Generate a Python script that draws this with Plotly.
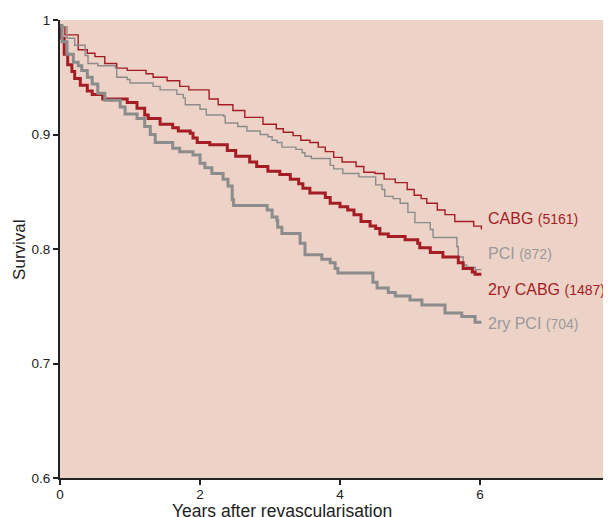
import plotly.graph_objects as go

# ---- data ----
cabg_t = [0, 0.07, 0.26, 0.39, 0.50, 0.64, 0.81, 0.96, 1.23, 1.33, 1.53, 1.71, 1.84, 2.13, 2.26, 2.47,
          2.64, 2.90, 3.09, 3.19, 3.33, 3.44, 3.57, 3.69, 3.79, 3.91, 4.03, 4.23, 4.34, 4.50, 4.63, 4.79,
          4.96, 5.06, 5.16, 5.24, 5.39, 5.50, 5.64, 5.91, 6.02]
cabg_s = [0.994, 0.987, 0.974, 0.971, 0.968, 0.962, 0.958, 0.956, 0.953, 0.950, 0.947, 0.942, 0.939, 0.931,
          0.926, 0.921, 0.915, 0.909, 0.905, 0.902, 0.899, 0.895, 0.893, 0.889, 0.885, 0.880, 0.876, 0.872,
          0.867, 0.866, 0.861, 0.858, 0.852, 0.847, 0.844, 0.840, 0.834, 0.830, 0.824, 0.820, 0.817]

pci_t = [0, 0.10, 0.21, 0.36, 0.40, 0.54, 0.79, 0.81, 0.96, 1.00, 1.33, 1.43, 1.67, 1.76, 1.79, 2.00, 2.09,
         2.34, 2.36, 2.54, 2.67, 2.86, 2.97, 3.03, 3.10, 3.17, 3.37, 3.46, 3.50, 3.59, 3.86, 3.91, 4.04,
         4.27, 4.51, 4.60, 4.64, 4.76, 4.86, 4.97, 5.07, 5.29, 5.33, 5.67, 5.69, 5.76, 5.81, 5.93, 6.02]
pci_s = [0.994, 0.984, 0.978, 0.969, 0.962, 0.960, 0.958, 0.950, 0.948, 0.945, 0.942, 0.939, 0.935, 0.932,
         0.926, 0.922, 0.917, 0.916, 0.910, 0.907, 0.903, 0.900, 0.898, 0.895, 0.893, 0.889, 0.887, 0.884,
         0.881, 0.879, 0.873, 0.870, 0.866, 0.863, 0.856, 0.852, 0.846, 0.844, 0.840, 0.832, 0.823, 0.817,
         0.810, 0.802, 0.793, 0.786, 0.784, 0.782, 0.782]

cabg2_t = [0, 0.02, 0.06, 0.11, 0.17, 0.21, 0.29, 0.39, 0.46, 0.61, 0.96, 1.10, 1.21, 1.26, 1.43, 1.61,
           1.69, 1.86, 1.90, 1.96, 2.14, 2.39, 2.51, 2.71, 2.81, 2.97, 3.14, 3.29, 3.41, 3.47, 3.57, 3.79,
           3.86, 4.00, 4.11, 4.20, 4.30, 4.43, 4.51, 4.57, 4.69, 4.93, 5.11, 5.14, 5.29, 5.47, 5.69, 5.76,
           5.89, 5.93, 6.02]
cabg2_s = [0.995, 0.984, 0.970, 0.961, 0.955, 0.949, 0.943, 0.938, 0.935, 0.931, 0.928, 0.923, 0.917,
           0.914, 0.909, 0.906, 0.903, 0.901, 0.897, 0.893, 0.891, 0.886, 0.881, 0.876, 0.872, 0.868, 0.865,
           0.861, 0.857, 0.853, 0.849, 0.845, 0.840, 0.837, 0.834, 0.830, 0.824, 0.820, 0.818, 0.813, 0.811,
           0.808, 0.805, 0.801, 0.797, 0.793, 0.788, 0.783, 0.780, 0.778, 0.778]

pci2_t = [0, 0.03, 0.10, 0.19, 0.26, 0.31, 0.39, 0.46, 0.54, 0.64, 0.86, 0.93, 1.10, 1.21, 1.29, 1.36,
          1.61, 1.71, 1.90, 2.00, 2.07, 2.17, 2.33, 2.40, 2.46, 2.48, 2.96, 3.03, 3.10, 3.11, 3.17, 3.43,
          3.50, 3.74, 3.86, 3.93, 3.97, 4.47, 4.53, 4.69, 4.79, 5.00, 5.17, 5.50, 5.74, 5.93, 6.02]
pci2_s = [0.995, 0.981, 0.970, 0.963, 0.960, 0.956, 0.950, 0.944, 0.936, 0.930, 0.924, 0.918, 0.914,
          0.907, 0.900, 0.893, 0.888, 0.885, 0.882, 0.875, 0.871, 0.866, 0.861, 0.855, 0.843, 0.838, 0.834,
          0.828, 0.825, 0.819, 0.8135, 0.805, 0.795, 0.791, 0.788, 0.783, 0.779, 0.771, 0.766, 0.762, 0.759,
          0.7555, 0.751, 0.744, 0.741, 0.736, 0.736]

labels = ["CABG", "PCI", "2ry CABG", "2ry PCI"]
counts = ["(5161)", "(872)", "(1487)", "(704)"]
label_y = [0.827, 0.796, 0.765, 0.735]

x_ticks = [0, 2, 4, 6]
y_ticks = [0.6, 0.7, 0.8, 0.9, 1.0]
y_ticktext = ["0.6", "0.7", "0.8", "0.9", "1"]

RED = "#a51d24"
GRAY = "#8c8c8c"
RED_TXT = "#a51d24"
GRAY_TXT = "#9a9a9a"
AXIS = "#222"
FONT = "Liberation Sans, Arial, sans-serif"

fig = go.Figure()
series = [
    (cabg_t, cabg_s, RED, 1.4),
    (pci_t, pci_s, GRAY, 1.4),
    (cabg2_t, cabg2_s, RED, 3.0),
    (pci2_t, pci2_s, GRAY, 3.0),
]
for t, s, c, w in series:
    fig.add_trace(go.Scatter(x=t, y=s, mode="lines", line=dict(color=c, width=w, shape="hv"),
                             hoverinfo="skip", showlegend=False))

txt_colors = [RED_TXT, GRAY_TXT, RED_TXT, GRAY_TXT]
for lab, cnt, yv, col in zip(labels, counts, label_y, txt_colors):
    fig.add_annotation(x=6.09, y=yv, xref="x", yref="y", xanchor="left", yanchor="middle",
                       text=f"{lab} <span style='font-size:14px'>{cnt}</span>",
                       showarrow=False, font=dict(family=FONT, size=16, color=col))

# axis titles
fig.add_annotation(x=(282 - 60) / 559, y=-0.072, xref="paper", yref="paper",
                   xanchor="center", yanchor="middle", showarrow=False,
                   text="Years after revascularisation",
                   font=dict(family=FONT, size=17.5, color=AXIS))
fig.add_annotation(x=-0.0716, y=0.498, xref="paper", yref="paper",
                   xanchor="center", yanchor="middle", showarrow=False, textangle=-90,
                   text="Survival", font=dict(family=FONT, size=17, color=AXIS))

# the page body adds an 8px offset; margins compensate so the plot area sits at x 60+, y 20-478
fig.update_layout(
    width=611, height=517,
    margin=dict(l=52, r=0, t=12, b=47),
    paper_bgcolor="white",
    plot_bgcolor="#ecd2c7",
    font=dict(family=FONT, size=14, color=AXIS),
    xaxis=dict(range=[0, 7.986], tickvals=x_ticks, showgrid=False, zeroline=False, automargin=False,
               showline=True, linecolor=AXIS, linewidth=2, ticks="outside", ticklen=5,
               tickwidth=1.5, tickcolor=AXIS, ticklabelstandoff=-2,
               tickfont=dict(family=FONT, size=13.5, color=AXIS)),
    yaxis=dict(range=[0.6, 1.0], tickvals=y_ticks, ticktext=y_ticktext, showgrid=False, zeroline=False,
               automargin=False,
               showline=True, linecolor=AXIS, linewidth=2, ticks="outside", ticklen=5,
               tickwidth=1.5, tickcolor=AXIS,
               tickfont=dict(family=FONT, size=13.5, color=AXIS)),
)

fig.write_html("out.html")
